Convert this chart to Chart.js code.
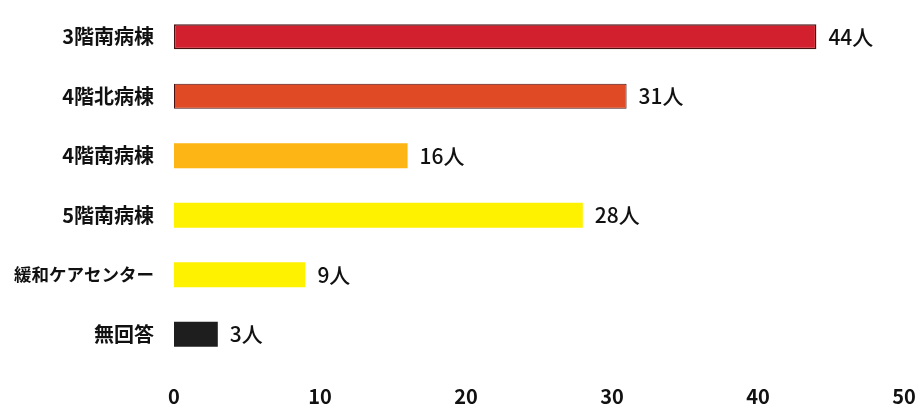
<!DOCTYPE html>
<html>
<head>
<meta charset="utf-8">
<script src="https://cdn.jsdelivr.net/npm/chart.js@4"></script>
<style>
  html, body { margin: 0; padding: 0; background: #fff; }
  #wrap { width: 920px; height: 408px; }
</style>
</head>
<body>
<div id="wrap"><canvas id="wardChart"></canvas></div>
<script>
// ===== DATA =====
const categories = ["3階南病棟", "4階北病棟", "4階南病棟", "5階南病棟", "緩和ケアセンター", "無回答"];
const counts = [44, 31, 16, 28, 9, 3];
const barColors = ["#d3202e", "#e04a24", "#fdb515", "#fff200", "#fff200", "#1e1e1e"];
const unit = "人";
const xTicks = [0, 10, 20, 30, 40, 50];

const FONT = "'Noto Sans CJK JP', 'Noto Sans', sans-serif";

// value labels at the end of each bar
const valueLabels = {
    id: "valueLabels",
    afterDatasetsDraw(chart) {
        const c = chart.ctx;
        const meta = chart.getDatasetMeta(0);
        c.save();
        c.font = "500 21px " + FONT;
        c.fillStyle = "#111";
        c.textBaseline = "middle";
        c.textAlign = "left";
        meta.data.forEach((bar, i) => {
            c.fillText(counts[i] + unit, bar.x + 12, bar.y);
        });
        c.restore();
    }
};

new Chart(document.getElementById("wardChart"), {
    type: "bar",
    data: {
        labels: categories,
        datasets: [{
            data: counts,
            backgroundColor: barColors,
            borderColor: "#4a1010",
            borderWidth: [1.5, 1, 0, 0, 0, 0],
            borderSkipped: false,
            categoryPercentage: 1,
            barPercentage: 0.42
        }]
    },
    options: {
        indexAxis: "y",
        responsive: true,
        maintainAspectRatio: false,
        animation: false,
        layout: { padding: { top: 7, right: 16, left: 0, bottom: 0 } },
        plugins: {
            legend: { display: false },
            tooltip: { enabled: false }
        },
        scales: {
            x: {
                min: 0,
                max: 50,
                afterBuildTicks: (s) => { s.ticks = xTicks.map(v => ({ value: v })); },
                afterFit: (s) => {
                    s.height = 44;
                    s.paddingLeft = 0;
                    s.paddingRight = 0;
                },
                grid: { display: false, drawTicks: false },
                border: { display: false },
                ticks: {
                    padding: 20,
                    color: "#111",
                    font: { family: FONT, size: 20, weight: "bold" }
                }
            },
            y: {
                afterFit: (s) => {
                    s.width = 174;
                    s.paddingTop = 0;
                    s.paddingBottom = 0;
                },
                grid: { display: false, drawTicks: false },
                border: { display: false },
                ticks: {
                    padding: 20,
                    color: "#111",
                    font: (ctx) => ({
                        family: FONT,
                        weight: "bold",
                        size: ctx.index === 4 ? 17.5 : 20
                    })
                }
            }
        }
    },
    plugins: [valueLabels]
});
</script>
</body>
</html>
